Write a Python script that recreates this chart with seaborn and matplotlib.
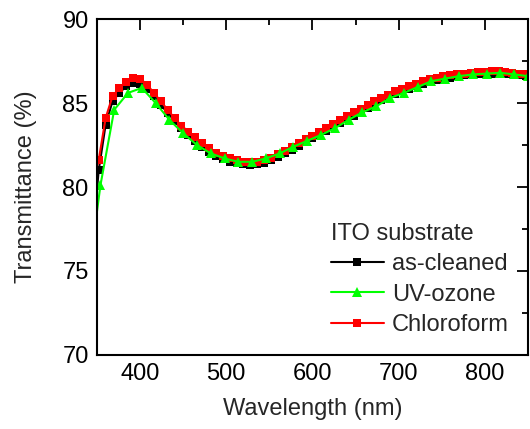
import numpy as np
import pandas as pd
import matplotlib
matplotlib.use("Agg")
import matplotlib.pyplot as plt
from matplotlib.ticker import MultipleLocator
import seaborn as sns

sns.set_theme(style="white")
plt.rcParams['font.family'] = ['Liberation Sans', 'DejaVu Sans']

# ---- data ----
wl_sq = [346, 352, 360, 368, 376, 384, 392, 400, 408, 416, 424, 432, 440, 448, 456, 464,
         472, 480, 488, 496, 504, 512, 520, 528, 536, 544, 552, 560, 568, 576,
         584, 592, 600, 608, 616, 624, 632, 640, 648, 656, 664, 672, 680, 688,
         696, 704, 712, 720, 728, 736, 744, 752, 760, 768, 776, 784, 792, 800,
         808, 816, 824, 832, 840, 848]
as_cleaned = [77.5, 81.0, 83.7, 85.1, 85.6, 86.0, 86.2, 86.15, 85.85, 85.4, 84.9, 84.4, 83.95,
              83.5, 83.1, 82.75, 82.4, 82.1, 81.85, 81.65, 81.5, 81.4, 81.35, 81.3,
              81.35, 81.45, 81.6, 81.8, 82.0, 82.2, 82.45, 82.65, 82.9, 83.1, 83.35,
              83.55, 83.8, 84.05, 84.25, 84.5, 84.7, 84.95, 85.15, 85.35, 85.55, 85.7,
              85.85, 86.0, 86.15, 86.25, 86.35, 86.45, 86.5, 86.6, 86.65, 86.7, 86.7,
              86.75, 86.75, 86.75, 86.7, 86.7, 86.65, 86.6]
chloroform = [80.5, 81.6, 84.1, 85.4, 85.9, 86.25, 86.5, 86.45, 86.1, 85.6, 85.1, 84.6, 84.1,
              83.65, 83.3, 82.95, 82.6, 82.3, 82.05, 81.85, 81.7, 81.6, 81.5, 81.5,
              81.5, 81.6, 81.75, 81.95, 82.15, 82.4, 82.6, 82.85, 83.05, 83.3, 83.5,
              83.75, 84.0, 84.2, 84.45, 84.65, 84.9, 85.1, 85.3, 85.5, 85.7, 85.85,
              86.0, 86.15, 86.3, 86.4, 86.5, 86.6, 86.65, 86.7, 86.75, 86.8, 86.85,
              86.85, 86.9, 86.9, 86.85, 86.8, 86.75, 86.7]
wl_tri = [346, 354, 370, 386, 402, 418, 434, 450, 466, 482, 498, 514, 530, 546, 562, 578,
          594, 610, 626, 642, 658, 674, 690, 706, 722, 738, 754, 770, 786, 802,
          818, 834, 850]
uv_ozone = [77.0, 80.1, 84.6, 85.6, 85.9, 85.0, 84.0, 83.2, 82.5, 82.0, 81.7, 81.5, 81.5, 81.7,
            82.0, 82.4, 82.75, 83.1, 83.5, 84.0, 84.45, 84.8, 85.3, 85.6, 85.95,
            86.3, 86.45, 86.6, 86.7, 86.75, 86.8, 86.7, 86.6]

labels = ["as-cleaned", "UV-ozone", "Chloroform"]
legend_title = "ITO substrate"

fig = plt.figure(figsize=(5.30, 4.29), dpi=100)
ax = fig.add_axes([0.183, 0.1725, 0.813, 0.7832])

common = dict(estimator=None, sort=False, linewidth=1.5, markeredgewidth=0,
              markevery=slice(1, None), ax=ax)
sns.lineplot(x=wl_sq, y=as_cleaned, color="black", marker="s", markersize=6,
             label=labels[0], **common)
sns.lineplot(x=wl_sq, y=chloroform, color="#ff0000", marker="s", markersize=6,
             label=labels[2], **common)
sns.lineplot(x=wl_tri, y=uv_ozone, color="#00ff00", marker="^", markersize=7.5,
             label=labels[1], **common)

ax.set_xlim(350, 850)
ax.set_ylim(70, 90)
ax.xaxis.set_major_locator(MultipleLocator(100))
ax.xaxis.set_minor_locator(MultipleLocator(50))
ax.yaxis.set_major_locator(MultipleLocator(5))
ax.yaxis.set_minor_locator(MultipleLocator(2.5))
ax.tick_params(which="both", direction="in", top=True, right=True,
               labelsize=17, width=1.3, colors="black", pad=6)
ax.tick_params(which="major", length=8)
ax.tick_params(which="minor", length=4)
for s in ax.spines.values():
    s.set_linewidth(1.5)
    s.set_color("black")

ax.set_xlabel("Wavelength (nm)", fontsize=17, labelpad=9)
ax.set_ylabel("Transmittance (%)", fontsize=17, labelpad=18)

h, l = ax.get_legend_handles_labels()
order = [l.index(x) for x in labels]
leg = ax.legend([h[i] for i in order], [l[i] for i in order], title=legend_title,
                loc="lower right", bbox_to_anchor=(1.0, 0.0), frameon=False,
                fontsize=17, title_fontsize=17, alignment="left",
                handlelength=2.25, handletextpad=0.35, labelspacing=0.36,
                borderaxespad=0.4)

fig.savefig("out.png", dpi=100)
